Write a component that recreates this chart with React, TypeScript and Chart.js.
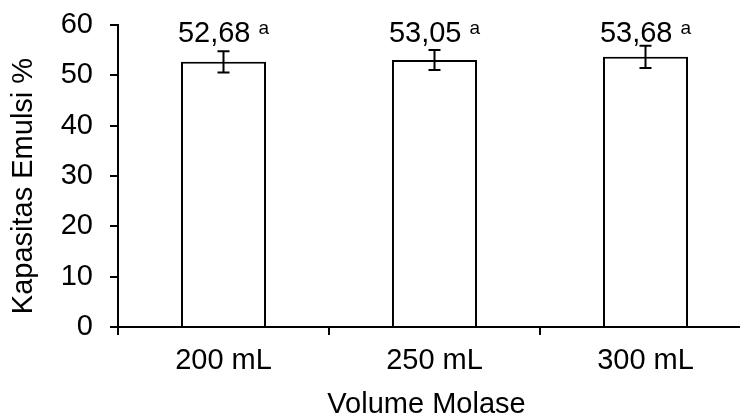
import React, { useEffect, useRef } from "react";
import { Chart, registerables } from "chart.js";

Chart.register(...registerables);

const categories = ["200 mL", "250 mL", "300 mL"];
const values = [52.68, 53.05, 53.68];
const errors = [2.1, 2.0, 2.2];
const valueLabels = ["52,68", "53,05", "53,68"];
const letters = ["a", "a", "a"];
const yTicks = [0, 10, 20, 30, 40, 50, 60];
const xTitle = "Volume Molase";
const yTitle = "Kapasitas Emulsi %";

const FONT = "'Liberation Sans', Arial, sans-serif";

const overlayPlugin = {
  id: "overlay",
  afterDraw(chart: any) {
    const ctx = chart.ctx;
    const meta = chart.getDatasetMeta(0);
    const y = chart.scales.y;
    const area = chart.chartArea;
    const topVal = Math.max(...values.map((v, i) => v + errors[i]));
    const labelBase = y.getPixelForValue(topVal) - 4;
    ctx.save();
    meta.data.forEach((bar: any, i: number) => {
      const x = bar.x;
      const yt = y.getPixelForValue(values[i] + errors[i]);
      const yb = y.getPixelForValue(values[i] - errors[i]);
      ctx.strokeStyle = "#000";
      ctx.lineWidth = 2;
      ctx.beginPath();
      ctx.moveTo(x, yt);
      ctx.lineTo(x, yb);
      ctx.moveTo(x - 6, yt);
      ctx.lineTo(x + 6, yt);
      ctx.moveTo(x - 6, yb);
      ctx.lineTo(x + 6, yb);
      ctx.stroke();

      ctx.fillStyle = "#000";
      ctx.textBaseline = "alphabetic";
      ctx.textAlign = "left";
      ctx.font = `29px ${FONT}`;
      const w1 = ctx.measureText(valueLabels[i]).width;
      const sp = ctx.measureText(" ").width;
      ctx.font = `19px ${FONT}`;
      const w2 = ctx.measureText(letters[i]).width;
      const total = w1 + sp + w2;
      const start = x - total / 2;
      ctx.font = `29px ${FONT}`;
      ctx.fillText(valueLabels[i], start, labelBase);
      ctx.font = `19px ${FONT}`;
      ctx.fillText(letters[i], start + w1 + sp, labelBase - 8);
    });

    // axis titles
    ctx.fillStyle = "#000";
    ctx.font = `29px ${FONT}`;
    ctx.textAlign = "center";
    ctx.textBaseline = "alphabetic";
    ctx.fillText(xTitle, (area.left + area.right) / 2 - 8, chart.height - 3);

    ctx.save();
    ctx.translate(24, (area.top + area.bottom) / 2 + 10);
    ctx.rotate(-Math.PI / 2);
    ctx.textBaseline = "middle";
    ctx.fillText(yTitle, 0, 0);
    ctx.restore();

    ctx.restore();
  },
};

export default function App() {
  const ref = useRef<HTMLCanvasElement>(null);
  useEffect(() => {
    if (!ref.current) return;
    const chart = new Chart(ref.current, {
      type: "bar",
      data: {
        labels: categories,
        datasets: [
          {
            data: values,
            backgroundColor: "#ffffff",
            borderColor: "#000000",
            borderWidth: 2,
            barPercentage: 0.403,
            categoryPercentage: 1,
          },
        ],
      },
      options: {
        animation: false,
        responsive: true,
        maintainAspectRatio: false,
        layout: { padding: { top: 25, right: 9, left: 0, bottom: 0 } },
        plugins: { legend: { display: false }, tooltip: { enabled: false } },
        scales: {
          x: {
            afterFit: (s: any) => {
              s.height = 89;
              s.paddingLeft = 0;
              s.paddingRight = 0;
            },
            grid: {
              display: true,
              drawOnChartArea: false,
              drawTicks: true,
              tickLength: 8,
              color: "#000",
              lineWidth: 2,
              offset: true,
            },
            border: { display: true, color: "#000", width: 2 },
            ticks: {
              color: "#000",
              font: { family: FONT, size: 29 },
              padding: 9,
            },
          },
          y: {
            min: 0,
            max: 60,
            afterFit: (s: any) => {
              s.width = 118;
              s.paddingTop = 0;
              s.paddingBottom = 0;
            },
            afterBuildTicks: (s: any) => {
              s.ticks = yTicks.map((v) => ({ value: v }));
            },
            grid: {
              display: true,
              drawOnChartArea: false,
              drawTicks: true,
              tickLength: 8,
              color: "#000",
              lineWidth: 2,
            },
            border: { display: true, color: "#000", width: 2 },
            ticks: {
              color: "#000",
              font: { family: FONT, size: 29 },
              padding: 17,
            },
          },
        },
      },
      plugins: [overlayPlugin],
    });
    return () => chart.destroy();
  }, []);
  return (
    <div
      style={{
        position: "absolute",
        left: 0,
        top: 0,
        width: 740,
        height: 416,
        overflow: "hidden",
        background: "#fff",
      }}
    >
      <div style={{ position: "relative", width: 760, height: 416 }}>
        <canvas ref={ref} />
      </div>
    </div>
  );
}
